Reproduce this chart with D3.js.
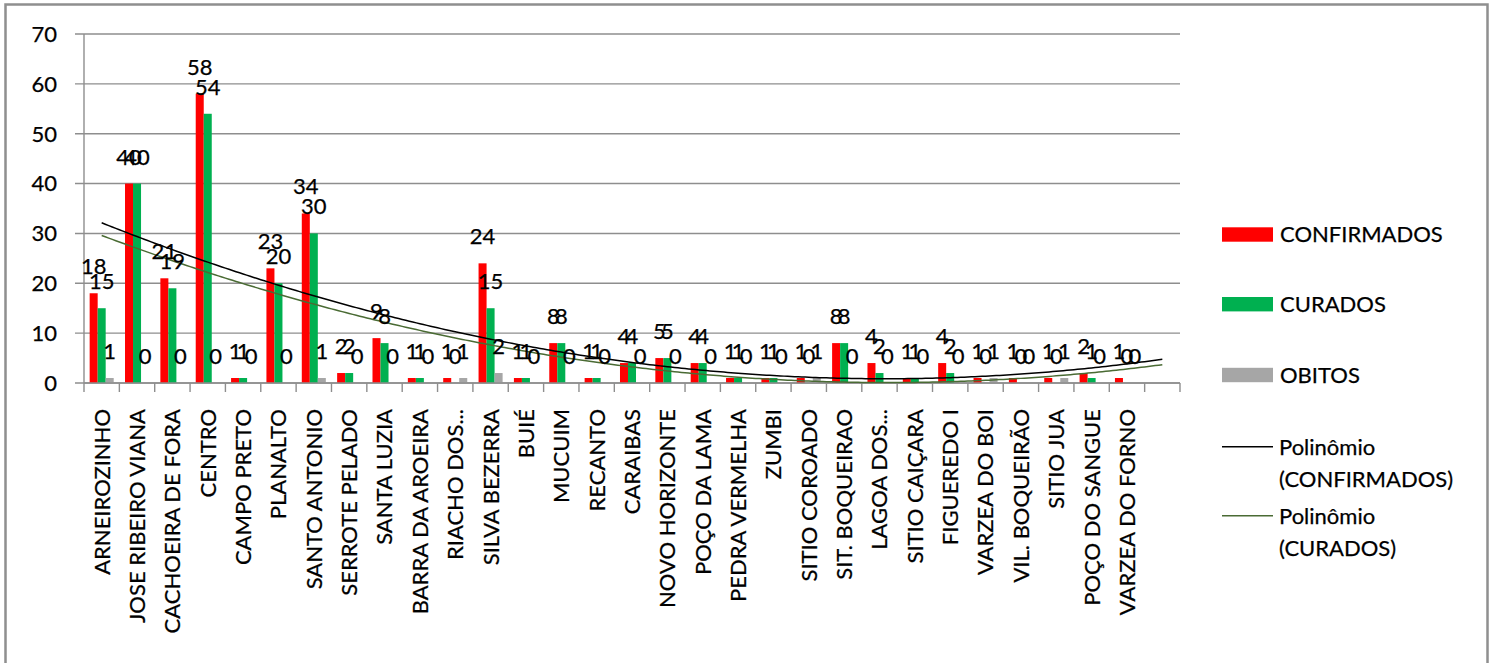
<!DOCTYPE html>
<html>
<head>
<meta charset="utf-8">
<script src="https://cdn.jsdelivr.net/npm/d3@7/dist/d3.min.js"></script>
<style>
  html, body { margin: 0; padding: 0; background: #fff; }
  svg { display: block; font-family: Lato, "Open Sans", sans-serif; }
  svg text { stroke: #000; stroke-width: 0.25px; paint-order: stroke; }
</style>
</head>
<body>
<svg id="chart" width="1496" height="663"></svg>
<script>
const categories = ["ARNEIROZINHO","JOSE RIBEIRO VIANA","CACHOEIRA DE FORA","CENTRO","CAMPO PRETO","PLANALTO","SANTO ANTONIO","SERROTE PELADO","SANTA LUZIA","BARRA DA AROEIRA","RIACHO DOS...","SILVA BEZERRA","BUIÉ","MUCUIM","RECANTO","CARAIBAS","NOVO HORIZONTE","POÇO DA LAMA","PEDRA VERMELHA","ZUMBI","SITIO COROADO","SIT. BOQUEIRAO","LAGOA DOS...","SITIO CAIÇARA","FIGUEREDO I","VARZEA DO BOI","VIL. BOQUEIRÃO","SITIO JUA","POÇO DO SANGUE","VARZEA DO FORNO",""];
const confirmados = [18,40,21,58,1,23,34,2,9,1,1,24,1,8,1,4,5,4,1,1,1,8,4,1,4,1,1,1,2,1,null];
const curados     = [15,40,19,54,1,20,30,2,8,1,0,15,1,8,1,4,5,4,1,1,0,8,2,1,2,0,0,0,1,0,null];
const obitos      = [1,0,0,0,0,0,1,0,0,0,1,2,0,0,0,0,0,0,0,0,1,0,0,0,0,1,0,1,0,0,null];
const seriesNames = ["CONFIRMADOS","CURADOS","OBITOS"];
const seriesColors = ["#FF0000","#00B050","#A6A6A6"];
const yTicks = [0,10,20,30,40,50,60,70];
const trendNames = ["Polinômio", "(CONFIRMADOS)", "Polinômio", "(CURADOS)"];

const svg = d3.select("#chart");
const L = 84, R = 1180, T = 34, B = 383;
const gridColor = "#8e8e8e";

// frame
svg.append("rect").attr("x",5.5).attr("y",4.5).attr("width",1482).attr("height",720)
  .attr("fill","none").attr("stroke","#8f8f8f").attr("stroke-width",2.5);

const x0 = d3.scaleBand().domain(d3.range(categories.length)).range([L,R])
  .paddingInner(0.32).paddingOuter(0.16);
const x1 = d3.scaleBand().domain(d3.range(3)).range([0, x0.bandwidth()]);
const y = d3.scaleLinear().domain([0,70]).range([B,T]);
const step = (R-L)/categories.length;
const center = i => L + step*(i+0.5);

// gridlines
svg.append("g").selectAll("line").data(yTicks).join("line")
  .attr("x1", L-9).attr("x2", R).attr("y1", d=>y(d)).attr("y2", d=>y(d))
  .attr("stroke", gridColor).attr("stroke-width",1.4);

// y axis line
svg.append("line").attr("x1",L).attr("x2",L).attr("y1",T).attr("y2",B)
  .attr("stroke",gridColor).attr("stroke-width",1.4);
// x ticks
svg.append("g").selectAll("line").data(d3.range(categories.length+1)).join("line")
  .attr("x1", i=>L+step*i).attr("x2", i=>L+step*i).attr("y1",B).attr("y2",B+9)
  .attr("stroke",gridColor).attr("stroke-width",1.4);

// y labels
svg.append("g").selectAll("text").data(yTicks).join("text")
  .attr("x",57).attr("y",d=>y(d)).attr("dy","0.36em").attr("text-anchor","end")
  .attr("font-size",22).attr("fill","#000").text(d=>d);

// bars
const series = [confirmados, curados, obitos];
series.forEach((vals, s) => {
  const g = svg.append("g");
  g.selectAll("rect").data(vals.map((v,i)=>({v,i})).filter(d=>d.v!==null)).join("rect")
    .attr("x", d=>x0(d.i)+x1(s)).attr("width", x1.bandwidth())
    .attr("y", d=>y(d.v)).attr("height", d=>B-y(d.v))
    .attr("fill", seriesColors[s]);
});

// x axis baseline over bars
svg.append("line").attr("x1",L).attr("x2",R).attr("y1",B).attr("y2",B)
  .attr("stroke",gridColor).attr("stroke-width",1.4);

// quadratic least squares fit
function polyFit(vals){
  const pts = vals.map((v,i)=>[i+1,v]).filter(p=>p[1]!==null);
  let S=[0,0,0,0,0], Sy=[0,0,0];
  pts.forEach(([xx,yy])=>{
    for(let k=0;k<5;k++) S[k]+=Math.pow(xx,k);
    for(let k=0;k<3;k++) Sy[k]+=yy*Math.pow(xx,k);
  });
  const M=[[S[0],S[1],S[2],Sy[0]],[S[1],S[2],S[3],Sy[1]],[S[2],S[3],S[4],Sy[2]]];
  for(let i=0;i<3;i++){
    let p=i; for(let r=i+1;r<3;r++) if(Math.abs(M[r][i])>Math.abs(M[p][i])) p=r;
    [M[i],M[p]]=[M[p],M[i]];
    for(let r=0;r<3;r++){ if(r===i) continue; const f=M[r][i]/M[i][i];
      for(let c=i;c<4;c++) M[r][c]-=f*M[i][c]; }
  }
  const c=[M[0][3]/M[0][0], M[1][3]/M[1][1], M[2][3]/M[2][2]];
  return xx => c[0]+c[1]*xx+c[2]*xx*xx;
}
const xt = d3.scaleLinear().domain([1, categories.length]).range([center(0), center(categories.length-1)]);
const trendColors = ["#000000", "#4a6b34"];
[confirmados, curados].forEach((vals, s) => {
  const f = polyFit(vals);
  const samples = d3.range(1, categories.length+0.001, 0.1);
  svg.append("path").datum(samples)
    .attr("d", d3.line().x(d=>xt(d)).y(d=>y(f(d))).curve(d3.curveLinear))
    .attr("fill","none").attr("stroke",trendColors[s]).attr("stroke-width",1.5);
});

// data labels
series.forEach((vals, s) => {
  svg.append("g").selectAll("text").data(vals.map((v,i)=>({v,i})).filter(d=>d.v!==null)).join("text")
    .attr("x", d=>x0(d.i)+x1(s)+x1.bandwidth()/2)
    .attr("y", d=>y(d.v)-19)
    .attr("text-anchor","middle").attr("font-size",22).attr("fill","#000")
    .text(d=>d.v);
});

// x labels
svg.append("g").selectAll("text").data(categories.map((c,i)=>({c,i}))).join("text")
  .attr("transform", d=>`translate(${center(d.i)},409) rotate(-90)`)
  .attr("dy","0.36em").attr("text-anchor","end").attr("font-size",22).attr("fill","#000")
  .text(d=>d.c);

// legend
const lg = svg.append("g");
const swY = [234.5, 304.2, 375];
seriesNames.forEach((n,i)=>{
  lg.append("rect").attr("x",1222).attr("y",swY[i]-7.2).attr("width",51).attr("height",14.4)
    .attr("fill",seriesColors[i]);
  lg.append("text").attr("x",1280).attr("y",swY[i]+7.6).attr("font-size",22).attr("fill","#000").text(n);
});
const lineY = [446.7, 515.7];
[0,1].forEach(i=>{
  lg.append("line").attr("x1",1222).attr("x2",1273).attr("y1",lineY[i]).attr("y2",lineY[i])
    .attr("stroke",trendColors[i]).attr("stroke-width",1.5);
  lg.append("text").attr("x",1279).attr("y",lineY[i]+8.3).attr("font-size",22).attr("fill","#000").text(trendNames[i*2]);
  lg.append("text").attr("x",1279).attr("y",lineY[i]+40).attr("font-size",22).attr("fill","#000").text(trendNames[i*2+1]);
});
</script>
</body>
</html>
